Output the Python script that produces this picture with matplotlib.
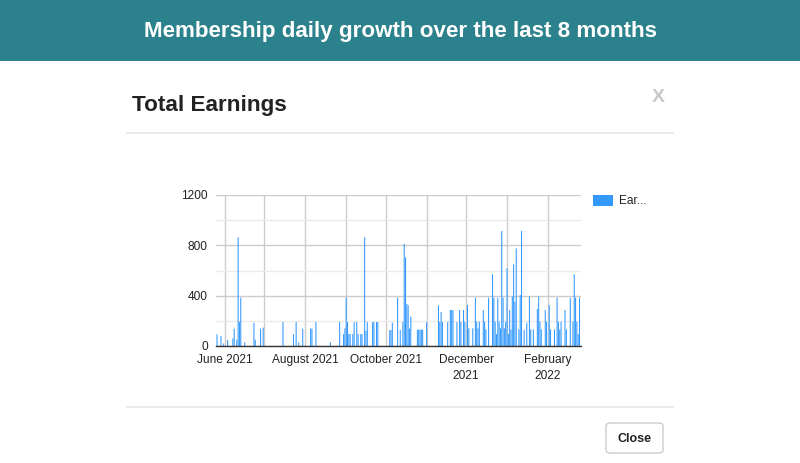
import matplotlib
matplotlib.use("Agg")
import matplotlib.pyplot as plt
from matplotlib.patches import FancyBboxPatch, Rectangle
import pandas as pd

plt.rcParams['font.family'] = ['Liberation Sans', 'DejaVu Sans']

# Daily earnings
days = [
    "2021-05-26", "2021-05-29", "2021-05-31", "2021-06-03", "2021-06-07",
    "2021-06-08", "2021-06-10", "2021-06-11", "2021-06-12", "2021-06-13",
    "2021-06-16", "2021-06-23", "2021-06-24", "2021-06-28", "2021-06-30",
    "2021-07-15", "2021-07-23", "2021-07-25", "2021-07-27", "2021-07-30",
    "2021-08-05", "2021-08-06", "2021-08-09", "2021-08-20", "2021-08-27",
    "2021-08-30", "2021-08-31", "2021-09-01", "2021-09-02", "2021-09-03",
    "2021-09-04", "2021-09-06", "2021-09-07", "2021-09-09", "2021-09-10",
    "2021-09-12", "2021-09-13", "2021-09-15", "2021-09-16", "2021-09-17",
    "2021-09-21", "2021-09-22", "2021-09-24", "2021-09-25", "2021-10-04",
    "2021-10-05", "2021-10-06", "2021-10-10", "2021-10-12", "2021-10-14",
    "2021-10-15", "2021-10-16", "2021-10-17", "2021-10-18", "2021-10-19",
    "2021-10-20", "2021-10-25", "2021-10-26", "2021-10-27", "2021-10-28",
    "2021-10-29", "2021-11-01", "2021-11-10", "2021-11-11", "2021-11-12",
    "2021-11-13", "2021-11-17", "2021-11-19", "2021-11-20", "2021-11-21",
    "2021-11-24", "2021-11-26", "2021-11-27", "2021-11-29", "2021-11-30",
    "2021-12-02", "2021-12-03", "2021-12-06", "2021-12-08", "2021-12-09",
    "2021-12-10", "2021-12-11", "2021-12-14", "2021-12-15", "2021-12-16",
    "2021-12-18", "2021-12-21", "2021-12-22", "2021-12-23", "2021-12-24",
    "2021-12-25", "2021-12-26", "2021-12-27", "2021-12-28", "2021-12-29",
    "2021-12-30", "2021-12-31", "2022-01-01", "2022-01-02", "2022-01-03",
    "2022-01-04", "2022-01-05", "2022-01-06", "2022-01-07", "2022-01-08",
    "2022-01-10", "2022-01-11", "2022-01-12", "2022-01-14", "2022-01-16",
    "2022-01-18", "2022-01-19", "2022-01-21", "2022-01-24", "2022-01-25",
    "2022-01-26", "2022-01-27", "2022-01-30", "2022-01-31", "2022-02-02",
    "2022-02-03", "2022-02-06", "2022-02-08", "2022-02-09", "2022-02-10",
    "2022-02-11", "2022-02-14", "2022-02-15", "2022-02-18", "2022-02-20",
    "2022-02-21", "2022-02-22", "2022-02-23", "2022-02-24", "2022-02-25",
]
earnings = [
    93, 80, 20, 48, 60,
    138, 50, 864, 190, 385,
    30, 185, 50, 137, 146,
    190, 93, 190, 30, 138,
    138, 138, 190, 30, 190,
    95, 140, 385, 190, 95,
    95, 95, 190, 190, 95,
    95, 95, 864, 120, 190,
    190, 190, 190, 190, 127,
    127, 185, 384, 127, 190,
    811, 705, 334, 323, 138,
    233, 130, 130, 130, 130,
    130, 190, 323, 190, 270,
    190, 190, 286, 286, 286,
    190, 286, 190, 286, 193,
    326, 140, 140, 384, 193,
    140, 193, 286, 193, 132,
    384, 570, 384, 193, 95,
    384, 193, 140, 914, 384,
    140, 193, 617, 95, 286,
    132, 392, 649, 352, 776,
    132, 405, 914, 127, 185,
    392, 132, 132, 294, 392,
    193, 132, 286, 193, 326,
    132, 132, 384, 193, 132,
    193, 286, 132, 384, 193,
    570, 384, 193, 95, 384,
]

month_starts = pd.date_range("2021-06-01", "2022-02-01", freq="MS")
month_labels = ["June 2021", "", "August 2021", "", "October 2021", "",
                "December\n2021", "", "February\n2022"]
y_ticks = [0, 400, 800, 1200]

W, H = 800, 463
fig = plt.figure(figsize=(W / 100, H / 100), dpi=100)
fig.patch.set_facecolor("white")

# Header band
fig.patches.append(Rectangle((0, 1 - 61 / H), 1, 61 / H, transform=fig.transFigure,
                             facecolor="#2b818c", edgecolor="none"))
fig.text(0.5, 1 - 31 / H, "Membership daily growth over the last 8 months",
         color="white", fontsize=16.1, fontweight="bold", ha="center", va="center")

# Modal title and separators
fig.text(132 / W, 1 - 105 / H, "Total Earnings", color="#222222", fontsize=16.2,
         fontweight="bold", ha="left", va="center")
fig.text(658 / W, 1 - 97 / H, "X", color="#c8c8c8", fontsize=14,
         fontweight="bold", ha="center", va="center")
for yy in (133, 407):
    fig.add_artist(plt.Line2D([127 / W, 673 / W], [1 - yy / H, 1 - yy / H],
                              color="#e5e5e5", lw=1.2, transform=fig.transFigure))

# Close button
fig.patches.append(FancyBboxPatch((606 / W, 1 - 453 / H), 57 / W, 30 / H,
                                  boxstyle="round,pad=0,rounding_size=0.006",
                                  transform=fig.transFigure, facecolor="white",
                                  edgecolor="#cccccc", lw=1))
fig.text(634.5 / W, 1 - 438.5 / H, "Close", color="#222222", fontsize=9,
         fontweight="bold", ha="center", va="center")

# Chart
ax = fig.add_axes([216 / W, 1 - 346 / H, (581 - 216) / W, (346 - 195) / H])
x = pd.to_datetime(days)
ax.bar(x, earnings, width=0.8, color="#3399ff", linewidth=0, zorder=3,
       snap=False)

ax.set_xlim(pd.Timestamp("2021-05-25 05:00"), pd.Timestamp("2022-02-26 03:00"))
ax.set_ylim(0, 1200)
ax.set_yticks(y_ticks)
ax.set_yticks([200, 600, 1000], minor=True)
ax.set_xticks(month_starts)
ax.set_xticklabels(month_labels)
for lbl in ax.get_xticklabels():
    lbl.set_linespacing(1.4)
ax.tick_params(axis="both", length=0, labelsize=8.6, colors="#222222")
ax.tick_params(axis="x", pad=6)
ax.tick_params(axis="y", pad=6)
ax.tick_params(which="minor", length=0)

ax.grid(True, which="major", axis="both", color="#cccccc", lw=1, zorder=0)
ax.grid(True, which="minor", axis="y", color="#ebebeb", lw=1, zorder=0)
for s in ("top", "right", "left"):
    ax.spines[s].set_visible(False)
ax.spines["bottom"].set_color("#333333")
ax.spines["bottom"].set_linewidth(1)
ax.spines["bottom"].set_zorder(4)

# Legend
fig.patches.append(Rectangle((593 / W, 1 - 206 / H), 20 / W, 11 / H,
                             transform=fig.transFigure, facecolor="#3399ff",
                             edgecolor="none"))
fig.text(619 / W, 1 - 201 / H, "Ear...", color="#222222", fontsize=8.6,
         ha="left", va="center")

fig.savefig("out.png", dpi=100, facecolor="white")
